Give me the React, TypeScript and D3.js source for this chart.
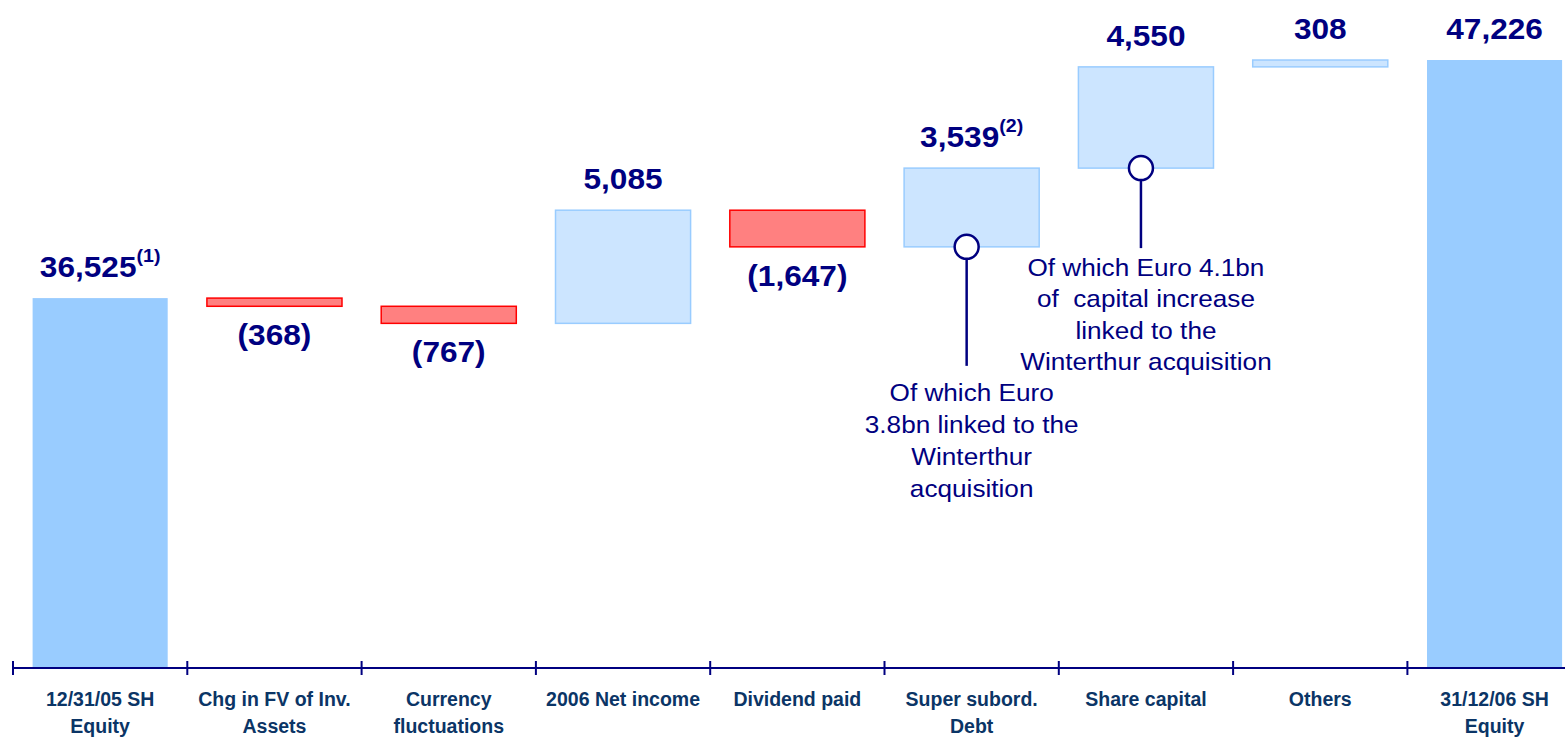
import React from "react";
import * as d3 from "d3";

const categories: string[][] = [
  ["12/31/05 SH", "Equity"],
  ["Chg in FV of Inv.", "Assets"],
  ["Currency", "fluctuations"],
  ["2006 Net income"],
  ["Dividend paid"],
  ["Super subord.", "Debt"],
  ["Share capital"],
  ["Others"],
  ["31/12/06 SH", "Equity"],
];
const values: number[] = [36525, -368, -767, 5085, -1647, 3539, 4550, 308, 47226];
const kinds: string[] = ["total", "delta", "delta", "delta", "delta", "delta", "delta", "delta", "total"];
const footnotes: string[] = ["(1)", "", "", "", "", "(2)", "", "", ""];

const annotations = [
  { index: 5, lines: ["Of which Euro", "3.8bn linked to the", "Winterthur", "acquisition"], leader: 119, textGap: 35, lineH: 32 },
  { index: 6, lines: ["Of which Euro 4.1bn", "of  capital increase", "linked to the", "Winterthur acquisition"], leader: 80, textGap: 28, lineH: 31.3 },
];

const W = 1565;
const H = 739;
const NAVY = "#000080";
const AXIS_TXT = "#0B3566";
const STRETCH = 1.09;

export default function App() {
  const step = 174.3;
  const x0 = 13;
  const x = d3
    .scaleBand<number>()
    .domain(values.map((_, i) => i))
    .range([x0, x0 + step * values.length])
    .paddingInner(0.225)
    .paddingOuter(0.1125);
  const y = d3.scaleLinear().domain([19900, 47226]).range([668, 60]);
  const fmt = d3.format(",");

  let run = 0;
  const bars = values.map((v, i) => {
    let start: number, end: number;
    if (kinds[i] === "total") {
      start = y.domain()[0];
      end = v;
      run = v;
    } else {
      start = run;
      end = run + v;
      run = end;
    }
    return { i, v, start, end, kind: kinds[i] };
  });

  const axisY = y(y.domain()[0]);
  const ticks = d3.range(values.length + 1).map((k) => x0 + k * step);

  return (
    <svg
      width={W}
      height={H}
      style={{ position: "absolute", left: 0, top: 0, background: "#fff" }}
      fontFamily="'Liberation Sans', Arial, sans-serif"
    >
      {bars.map((b) => {
        const top = y(Math.max(b.start, b.end));
        const bot = y(Math.min(b.start, b.end));
        const bx = x(b.i)!;
        const bw = x.bandwidth();
        if (b.kind === "total") {
          return <rect key={b.i} x={bx} y={top} width={bw} height={bot - top} fill="#99CCFF" />;
        }
        const neg = b.v < 0;
        return (
          <rect
            key={b.i}
            x={bx}
            y={top}
            width={bw}
            height={bot - top}
            fill={neg ? "#FF8080" : "#CCE5FF"}
            stroke={neg ? "#FF0000" : "#99CCFF"}
            strokeWidth={1.5}
          />
        );
      })}

      {/* value labels */}
      {bars.map((b) => {
        const cx = x(b.i)! + x.bandwidth() / 2;
        const neg = b.v < 0;
        const label = neg ? `(${fmt(-b.v)})` : fmt(b.v);
        const by = neg ? y(b.end) + 39 : y(Math.max(b.start, b.end)) - 21;
        return (
          <g key={"l" + b.i} transform={`translate(${cx},${by}) scale(${STRETCH},1)`}>
            <text textAnchor="middle" fontSize={29} fontWeight="bold" fill={NAVY}>
              {label}
              {footnotes[b.i] ? (
                <tspan fontSize={18} dy={-15}>
                  {footnotes[b.i]}
                </tspan>
              ) : null}
            </text>
          </g>
        );
      })}

      {/* annotations */}
      {annotations.map((a) => {
        const b = bars[a.index];
        const cx = x(a.index)! + x.bandwidth() / 2;
        const ccx = cx - 5;
        const cy = y(b.start);
        const r = 12;
        const lineEnd = cy + a.leader;
        return (
          <g key={"a" + a.index}>
            <line x1={ccx} x2={ccx} y1={cy + r} y2={lineEnd} stroke={NAVY} strokeWidth={2.5} />
            <circle cx={ccx} cy={cy} r={r} fill="#fff" stroke={NAVY} strokeWidth={2.5} />
            {a.lines.map((ln, k) => (
              <g key={k} transform={`translate(${cx},${lineEnd + a.textGap + k * a.lineH}) scale(${STRETCH},1)`}>
                <text textAnchor="middle" fontSize={24} fill={NAVY} style={{ whiteSpace: "pre" }}>
                  {ln}
                </text>
              </g>
            ))}
          </g>
        );
      })}

      {/* axis */}
      <line x1={x0} x2={W} y1={axisY} y2={axisY} stroke={NAVY} strokeWidth={2} />
      {ticks.map((t, k) => (
        <line key={"t" + k} x1={t} x2={t} y1={axisY - 7} y2={axisY + 7} stroke={NAVY} strokeWidth={2} />
      ))}
      {categories.map((lines, i) => {
        const cx = x(i)! + x.bandwidth() / 2;
        return (
          <text key={"c" + i} textAnchor="middle" fontSize={19.5} fontWeight="bold" fill={AXIS_TXT}>
            {lines.map((ln, k) => (
              <tspan key={k} x={cx} y={706 + k * 27}>
                {ln}
              </tspan>
            ))}
          </text>
        );
      })}
    </svg>
  );
}
